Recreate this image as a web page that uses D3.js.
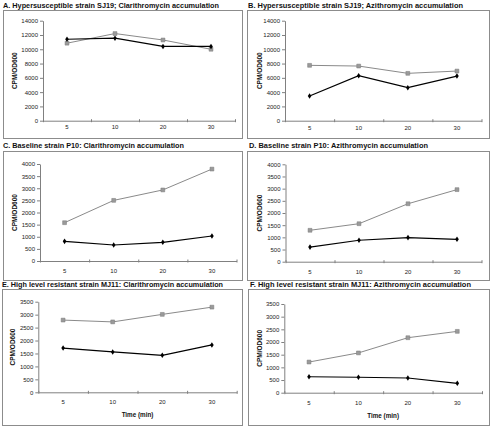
<!DOCTYPE html>
<html><head><meta charset="utf-8">
<script src="https://cdn.jsdelivr.net/npm/d3@7"></script>
<style>
html,body{margin:0;padding:0;background:#fff;}
svg{display:block;font-family:"Liberation Sans",Arial,sans-serif;}
</style></head>
<body><svg id="c" width="491" height="428"></svg>
<script>
// ---- data ----
const timeLabels = ["5", "10", "20", "30"];
const titles = [
  "A. Hypersusceptible strain SJ19; Clarithromycin accumulation",
  "B. Hypersusceptible strain SJ19; Azithromycin accumulation",
  "C. Baseline strain P10: Clarithromycin accumulation",
  "D. Baseline strain P10: Azithromycin accumulation",
  "E. High level resistant strain MJ11: Clarithromycin accumulation",
  "F. High level resistant strain MJ11: Azithromycin accumulation"
];
const yAxisTitle = "CPM/OD600";
const xAxisTitle = "Time (min)";
const yMaxes = [14000, 14000, 4000, 4000, 3500, 3500];
const ySteps = [2000, 2000, 500, 500, 500, 500];
// black diamond series
const diamondA = [11400, 11550, 10400, 10400];
const diamondB = [3450, 6300, 4620, 6250];
const diamondC = [810, 660, 770, 1030];
const diamondD = [600, 880, 990, 920];
const diamondE = [1710, 1560, 1430, 1830];
const diamondF = [630, 610, 580, 370];
// grey square series
const squareA = [10850, 12200, 11300, 10000];
const squareB = [7750, 7650, 6630, 6950];
const squareC = [1580, 2500, 2930, 3790];
const squareD = [1290, 1560, 2380, 2960];
const squareE = [2790, 2720, 3010, 3290];
const squareF = [1210, 1570, 2170, 2420];
const diamonds = [diamondA, diamondB, diamondC, diamondD, diamondE, diamondF];
const squares = [squareA, squareB, squareC, squareD, squareE, squareF];

// ---- layout ----
const layout = [
  {box:[3,10,242,138],  x0:43,   x1:235,   yT:20.7,  yB:120.7, tx:3,   ty:7.5,   tw:216, xl:129,   ytx:15,  xt:false},
  {box:[247,10,489,138],x0:285,  x1:481.5, yT:20.7,  yB:120.7, tx:248, ty:7.5,   tw:215, xl:129.5, ytx:260, xt:false},
  {box:[3,151,242,280], x0:40,   x1:236.5, yT:164,   yB:261,   tx:3,   ty:147.5, tw:181, xl:273,   ytx:15,  xt:false},
  {box:[247,151,489,280],x0:285.5,x1:481.5,yT:164.3, yB:261.7, tx:249, ty:147.5, tw:179, xl:273.5, ytx:260, xt:false},
  {box:[2,289,242,425], x0:38.3, x1:236.7, yT:301.7, yB:392.3, tx:2,   ty:287.3, tw:221, xl:404,   ytx:13,  xt:true, xty:416.5},
  {box:[248,289,489,425],x0:284.3,x1:482,  yT:304,   yB:392.7, tx:250, ty:287.3, tw:221, xl:404.5, ytx:260, xt:true, xty:417.5}
];

const svg = d3.select("#c");
const axisCol = "#808080";

layout.forEach((L, i) => {
  const g = svg.append("g");
  g.append("rect")
    .attr("x", L.box[0] + 0.5).attr("y", L.box[1] + 0.5)
    .attr("width", L.box[2] - L.box[0]).attr("height", L.box[3] - L.box[1])
    .attr("fill", "none").attr("stroke", "#8c8c8c").attr("stroke-width", 1);

  g.append("text").text(titles[i])
    .attr("x", L.tx).attr("y", L.ty)
    .attr("font-size", 8).attr("font-weight", "bold").attr("fill", "#111")
    .attr("textLength", L.tw).attr("lengthAdjust", "spacingAndGlyphs");

  const x = d3.scaleBand().domain(timeLabels).range([L.x0, L.x1]).padding(0);
  const xb = d3.scaleLinear().domain([0, timeLabels.length]).range([L.x0, L.x1]);
  const y = d3.scaleLinear().domain([0, yMaxes[i]]).range([L.yB, L.yT]);

  // y axis
  const ya = g.append("g").attr("transform", `translate(${L.x0},0)`)
    .call(d3.axisLeft(y).tickValues(d3.range(0, yMaxes[i] + 1, ySteps[i]))
      .tickFormat(d3.format("d")).tickSize(3).tickPadding(2).tickSizeOuter(0));
  ya.select(".domain").attr("stroke", axisCol);
  ya.selectAll(".tick line").attr("stroke", axisCol);
  ya.selectAll("text").attr("font-size", 6).attr("fill", "#222").attr("font-family", "Liberation Sans, Arial, sans-serif");

  // x axis line + boundary ticks
  const xa = g.append("g").attr("transform", `translate(0,${L.yB})`)
    .call(d3.axisBottom(xb).tickValues(d3.range(0, timeLabels.length + 1)).tickSize(3).tickFormat("").tickSizeOuter(0));
  xa.select(".domain").attr("stroke", axisCol);
  xa.selectAll(".tick line").attr("stroke", axisCol).attr("y1", -1.5).attr("y2", 1.5);

  // x labels
  g.selectAll(".xl").data(timeLabels).join("text")
    .attr("x", d => x(d) + x.bandwidth() / 2).attr("y", L.xl)
    .attr("text-anchor", "middle").attr("font-size", 6).attr("fill", "#222")
    .text(d => d);

  // y title
  const ym = (L.yT + L.yB) / 2;
  g.append("text").text(yAxisTitle)
    .attr("transform", `translate(${L.ytx},${ym}) rotate(-90)`)
    .attr("text-anchor", "middle").attr("dy", "0.35em")
    .attr("font-size", 6.5).attr("font-weight", "bold").attr("fill", "#111");

  if (L.xt) {
    g.append("text").text(xAxisTitle)
      .attr("x", (L.x0 + L.x1) / 2).attr("y", L.xty)
      .attr("text-anchor", "middle").attr("font-size", 6.3).attr("font-weight", "bold").attr("fill", "#111");
  }

  const cx = (d, j) => x(timeLabels[j]) + x.bandwidth() / 2;
  const line = d3.line().x(cx).y(d => y(d));

  // grey square series
  g.append("path").datum(squares[i]).attr("d", line)
    .attr("fill", "none").attr("stroke", "#8a8a8a").attr("stroke-width", 1);
  g.selectAll(".sq").data(squares[i]).join("path")
    .attr("transform", (d, j) => `translate(${cx(d, j)},${y(d)})`)
    .attr("d", d3.symbol(d3.symbolSquare, 15)())
    .attr("fill", "#9a9a9a").attr("stroke", "#7a7a7a").attr("stroke-width", 0.5);

  // black diamond series
  g.append("path").datum(diamonds[i]).attr("d", line)
    .attr("fill", "none").attr("stroke", "#000").attr("stroke-width", 1.2);
  g.selectAll(".dm").data(diamonds[i]).join("path")
    .attr("transform", (d, j) => `translate(${cx(d, j)},${y(d)}) scale(0.9,0.8)`)
    .attr("d", d3.symbol(d3.symbolDiamond, 14)())
    .attr("fill", "#000");
});
</script></body></html>
